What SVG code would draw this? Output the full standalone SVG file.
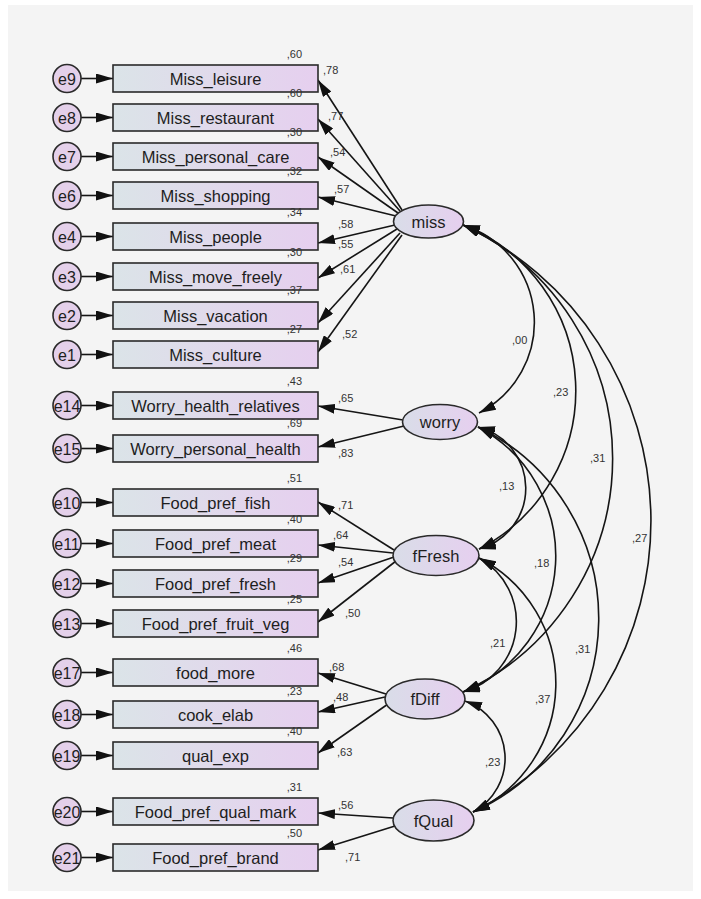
<svg xmlns="http://www.w3.org/2000/svg" width="701" height="899" viewBox="0 0 701 899">
<defs>
<linearGradient id="gBox" x1="0" y1="0" x2="1" y2="0">
<stop offset="0" stop-color="#dbe4e8"/><stop offset="1" stop-color="#e6cfef"/>
</linearGradient>
<linearGradient id="gEll" x1="0" y1="0" x2="1" y2="0">
<stop offset="0" stop-color="#d9dde8"/><stop offset="1" stop-color="#e6cfef"/>
</linearGradient>
<marker id="ah" markerUnits="userSpaceOnUse" viewBox="0 0 17 10" markerWidth="17" markerHeight="10" refX="17" refY="5" orient="auto-start-reverse">
<path d="M0,0 L17,5 L0,10 z" fill="#111"/>
</marker>
<style>
.box{fill:url(#gBox);stroke:#2a2a2a;stroke-width:1.6}
.ell{fill:url(#gEll);stroke:#2a2a2a;stroke-width:1.6}
.err{fill:#e4d0ea;stroke:#2a2a2a;stroke-width:1.6}
.lbl{font-family:"Liberation Sans",Arial,sans-serif;font-size:16.5px;fill:#1e1e1e;text-anchor:middle}
.elb{font-family:"Liberation Sans",Arial,sans-serif;font-size:16px;fill:#1e1e1e;text-anchor:middle}
.num{font-family:"Liberation Sans",Arial,sans-serif;font-size:11px;fill:#333}
.var{text-anchor:end}
.ln{stroke:#151515;stroke-width:1.6;fill:none;marker-end:url(#ah)}
.cv{stroke:#151515;stroke-width:1.6;fill:none;marker-start:url(#ah);marker-end:url(#ah)}
</style>
</defs>
<rect x="0" y="0" width="701" height="899" fill="#ffffff"/>
<rect x="8" y="5" width="685" height="886" fill="#f4f4f4"/>

<g id="connectors">
<line class="ln" x1="81" y1="78.5" x2="113" y2="78.5"/>
<line class="ln" x1="81" y1="117.5" x2="113" y2="117.5"/>
<line class="ln" x1="81" y1="156.5" x2="113" y2="156.5"/>
<line class="ln" x1="81" y1="195.5" x2="113" y2="195.5"/>
<line class="ln" x1="81" y1="236.5" x2="113" y2="236.5"/>
<line class="ln" x1="81" y1="276.5" x2="113" y2="276.5"/>
<line class="ln" x1="81" y1="315.5" x2="113" y2="315.5"/>
<line class="ln" x1="81" y1="354.5" x2="113" y2="354.5"/>
<line class="ln" x1="81" y1="405.5" x2="113" y2="405.5"/>
<line class="ln" x1="81" y1="448.5" x2="113" y2="448.5"/>
<line class="ln" x1="81" y1="502.5" x2="113" y2="502.5"/>
<line class="ln" x1="81" y1="543.5" x2="113" y2="543.5"/>
<line class="ln" x1="81" y1="583.5" x2="113" y2="583.5"/>
<line class="ln" x1="81" y1="623.5" x2="113" y2="623.5"/>
<line class="ln" x1="81" y1="672.5" x2="113" y2="672.5"/>
<line class="ln" x1="81" y1="714.5" x2="113" y2="714.5"/>
<line class="ln" x1="81" y1="755.5" x2="113" y2="755.5"/>
<line class="ln" x1="81" y1="811.5" x2="113" y2="811.5"/>
<line class="ln" x1="81" y1="857.5" x2="113" y2="857.5"/>
<line class="ln" x1="402" y1="210" x2="318" y2="80"/>
<line class="ln" x1="400" y1="211" x2="318" y2="119"/>
<line class="ln" x1="398" y1="213" x2="318" y2="157"/>
<line class="ln" x1="396" y1="216" x2="318" y2="197"/>
<line class="ln" x1="395" y1="225" x2="318" y2="243"/>
<line class="ln" x1="397" y1="229" x2="318" y2="278"/>
<line class="ln" x1="400" y1="233" x2="318" y2="323"/>
<line class="ln" x1="402" y1="235" x2="318" y2="352"/>
<line class="ln" x1="403" y1="420" x2="318" y2="406"/>
<line class="ln" x1="404" y1="426" x2="318" y2="447"/>
<line class="ln" x1="394" y1="550" x2="318" y2="502"/>
<line class="ln" x1="393" y1="553" x2="318" y2="545"/>
<line class="ln" x1="394" y1="557" x2="318" y2="583"/>
<line class="ln" x1="396" y1="561" x2="318" y2="622"/>
<line class="ln" x1="386" y1="694" x2="318" y2="673"/>
<line class="ln" x1="385" y1="697" x2="318" y2="712"/>
<line class="ln" x1="388" y1="704" x2="318" y2="753"/>
<line class="ln" x1="393" y1="818" x2="318" y2="813"/>
<line class="ln" x1="395" y1="826" x2="318" y2="850"/>
<path class="cv" d="M463,225 A102,102 0 0,1 479,413"/>
<path class="cv" d="M463,225 A178,178 0 0,1 479,549"/>
<path class="cv" d="M463,225 A257,257 0 0,1 463,692"/>
<path class="cv" d="M463,225 A327,327 0 0,1 473,812"/>
<path class="cv" d="M478,427 A63,63 0 0,1 479,549"/>
<path class="cv" d="M478,427 A146,146 0 0,1 463,692"/>
<path class="cv" d="M478,427 A212,212 0 0,1 473,812"/>
<path class="cv" d="M479,558 A73,73 0 0,1 463,692"/>
<path class="cv" d="M479,558 A141,141 0 0,1 473,812"/>
<path class="cv" d="M465,701 A61,61 0 0,1 473,812"/>
</g>

<g id="errors">
<g id="e9"><circle class="err" cx="67" cy="78.5" r="14"/><text class="elb" x="67" y="84.5">e9</text></g>
<g id="e8"><circle class="err" cx="67" cy="117.5" r="14"/><text class="elb" x="67" y="123.5">e8</text></g>
<g id="e7"><circle class="err" cx="67" cy="156.5" r="14"/><text class="elb" x="67" y="162.5">e7</text></g>
<g id="e6"><circle class="err" cx="67" cy="195.5" r="14"/><text class="elb" x="67" y="201.5">e6</text></g>
<g id="e4"><circle class="err" cx="67" cy="236.5" r="14"/><text class="elb" x="67" y="242.5">e4</text></g>
<g id="e3"><circle class="err" cx="67" cy="276.5" r="14"/><text class="elb" x="67" y="282.5">e3</text></g>
<g id="e2"><circle class="err" cx="67" cy="315.5" r="14"/><text class="elb" x="67" y="321.5">e2</text></g>
<g id="e1"><circle class="err" cx="67" cy="354.5" r="14"/><text class="elb" x="67" y="360.5">e1</text></g>
<g id="e14"><circle class="err" cx="67" cy="405.5" r="14"/><text class="elb" x="67" y="411.5">e14</text></g>
<g id="e15"><circle class="err" cx="67" cy="448.5" r="14"/><text class="elb" x="67" y="454.5">e15</text></g>
<g id="e10"><circle class="err" cx="67" cy="502.5" r="14"/><text class="elb" x="67" y="508.5">e10</text></g>
<g id="e11"><circle class="err" cx="67" cy="543.5" r="14"/><text class="elb" x="67" y="549.5">e11</text></g>
<g id="e12"><circle class="err" cx="67" cy="583.5" r="14"/><text class="elb" x="67" y="589.5">e12</text></g>
<g id="e13"><circle class="err" cx="67" cy="623.5" r="14"/><text class="elb" x="67" y="629.5">e13</text></g>
<g id="e17"><circle class="err" cx="67" cy="672.5" r="14"/><text class="elb" x="67" y="678.5">e17</text></g>
<g id="e18"><circle class="err" cx="67" cy="714.5" r="14"/><text class="elb" x="67" y="720.5">e18</text></g>
<g id="e19"><circle class="err" cx="67" cy="755.5" r="14"/><text class="elb" x="67" y="761.5">e19</text></g>
<g id="e20"><circle class="err" cx="67" cy="811.5" r="14"/><text class="elb" x="67" y="817.5">e20</text></g>
<g id="e21"><circle class="err" cx="67" cy="857.5" r="14"/><text class="elb" x="67" y="863.5">e21</text></g>
</g>

<g id="observed">
<g id="Miss_leisure"><rect class="box" x="113" y="65" width="205" height="27"/><text class="lbl" x="215.5" y="84.5">Miss_leisure</text><text class="num var" x="302" y="58">,60</text></g>
<g id="Miss_restaurant"><rect class="box" x="113" y="104" width="205" height="27"/><text class="lbl" x="215.5" y="123.5">Miss_restaurant</text><text class="num var" x="302" y="97">,60</text></g>
<g id="Miss_personal_care"><rect class="box" x="113" y="143" width="205" height="27"/><text class="lbl" x="215.5" y="162.5">Miss_personal_care</text><text class="num var" x="302" y="136">,30</text></g>
<g id="Miss_shopping"><rect class="box" x="113" y="182" width="205" height="27"/><text class="lbl" x="215.5" y="201.5">Miss_shopping</text><text class="num var" x="302" y="175">,32</text></g>
<g id="Miss_people"><rect class="box" x="113" y="223" width="205" height="27"/><text class="lbl" x="215.5" y="242.5">Miss_people</text><text class="num var" x="302" y="216">,34</text></g>
<g id="Miss_move_freely"><rect class="box" x="113" y="263" width="205" height="27"/><text class="lbl" x="215.5" y="282.5">Miss_move_freely</text><text class="num var" x="302" y="256">,30</text></g>
<g id="Miss_vacation"><rect class="box" x="113" y="302" width="205" height="27"/><text class="lbl" x="215.5" y="321.5">Miss_vacation</text><text class="num var" x="302" y="294">,37</text></g>
<g id="Miss_culture"><rect class="box" x="113" y="341" width="205" height="27"/><text class="lbl" x="215.5" y="360.5">Miss_culture</text><text class="num var" x="302" y="333">,27</text></g>
<g id="Worry_health_relatives"><rect class="box" x="113" y="392" width="205" height="27"/><text class="lbl" x="215.5" y="411.5">Worry_health_relatives</text><text class="num var" x="302" y="385">,43</text></g>
<g id="Worry_personal_health"><rect class="box" x="113" y="435" width="205" height="27"/><text class="lbl" x="215.5" y="454.5">Worry_personal_health</text><text class="num var" x="302" y="427">,69</text></g>
<g id="Food_pref_fish"><rect class="box" x="113" y="489" width="205" height="27"/><text class="lbl" x="215.5" y="508.5">Food_pref_fish</text><text class="num var" x="302" y="482">,51</text></g>
<g id="Food_pref_meat"><rect class="box" x="113" y="530" width="205" height="27"/><text class="lbl" x="215.5" y="549.5">Food_pref_meat</text><text class="num var" x="302" y="523">,40</text></g>
<g id="Food_pref_fresh"><rect class="box" x="113" y="570" width="205" height="27"/><text class="lbl" x="215.5" y="589.5">Food_pref_fresh</text><text class="num var" x="302" y="562">,29</text></g>
<g id="Food_pref_fruit_veg"><rect class="box" x="113" y="610" width="205" height="27"/><text class="lbl" x="215.5" y="629.5">Food_pref_fruit_veg</text><text class="num var" x="302" y="603">,25</text></g>
<g id="food_more"><rect class="box" x="113" y="659" width="205" height="27"/><text class="lbl" x="215.5" y="678.5">food_more</text><text class="num var" x="302" y="652">,46</text></g>
<g id="cook_elab"><rect class="box" x="113" y="701" width="205" height="27"/><text class="lbl" x="215.5" y="720.5">cook_elab</text><text class="num var" x="302" y="695">,23</text></g>
<g id="qual_exp"><rect class="box" x="113" y="742" width="205" height="27"/><text class="lbl" x="215.5" y="761.5">qual_exp</text><text class="num var" x="302" y="735">,40</text></g>
<g id="Food_pref_qual_mark"><rect class="box" x="113" y="798" width="205" height="27"/><text class="lbl" x="215.5" y="817.5">Food_pref_qual_mark</text><text class="num var" x="302" y="791">,31</text></g>
<g id="Food_pref_brand"><rect class="box" x="113" y="844" width="205" height="27"/><text class="lbl" x="215.5" y="863.5">Food_pref_brand</text><text class="num var" x="302" y="837">,50</text></g>
</g>

<g id="latent">
<g id="miss"><ellipse class="ell" cx="428.5" cy="221.5" rx="35" ry="16.5"/><text class="lbl" x="428.5" y="227.5">miss</text></g>
<g id="worry"><ellipse class="ell" cx="440" cy="422" rx="37.5" ry="17.5"/><text class="lbl" x="440" y="428">worry</text></g>
<g id="fFresh"><ellipse class="ell" cx="436" cy="555.5" rx="43" ry="20"/><text class="lbl" x="436" y="561.5">fFresh</text></g>
<g id="fDiff"><ellipse class="ell" cx="425" cy="699" rx="40" ry="20"/><text class="lbl" x="425" y="705">fDiff</text></g>
<g id="fQual"><ellipse class="ell" cx="433.5" cy="820.5" rx="40.5" ry="20.5"/><text class="lbl" x="433.5" y="826.5">fQual</text></g>
</g>

<g id="loading-labels">
<text class="num" x="323" y="74">,78</text>
<text class="num" x="328" y="120">,77</text>
<text class="num" x="330" y="156">,54</text>
<text class="num" x="334" y="193">,57</text>
<text class="num" x="338" y="228">,58</text>
<text class="num" x="338" y="248">,55</text>
<text class="num" x="340" y="273">,61</text>
<text class="num" x="342" y="338">,52</text>
<text class="num" x="338" y="402">,65</text>
<text class="num" x="338" y="457">,83</text>
<text class="num" x="338" y="509">,71</text>
<text class="num" x="333" y="539">,64</text>
<text class="num" x="338" y="566">,54</text>
<text class="num" x="345" y="617">,50</text>
<text class="num" x="329" y="671">,68</text>
<text class="num" x="333" y="701">,48</text>
<text class="num" x="337" y="756">,63</text>
<text class="num" x="338" y="809">,56</text>
<text class="num" x="345" y="861">,71</text>
</g>

<g id="covariance-labels">
<text class="num" x="512" y="344">,00</text>
<text class="num" x="553" y="396">,23</text>
<text class="num" x="590" y="462">,31</text>
<text class="num" x="632" y="542">,27</text>
<text class="num" x="499" y="490">,13</text>
<text class="num" x="534" y="567">,18</text>
<text class="num" x="490" y="647">,21</text>
<text class="num" x="575" y="653">,31</text>
<text class="num" x="535" y="703">,37</text>
<text class="num" x="485" y="766">,23</text>
</g>
</svg>
